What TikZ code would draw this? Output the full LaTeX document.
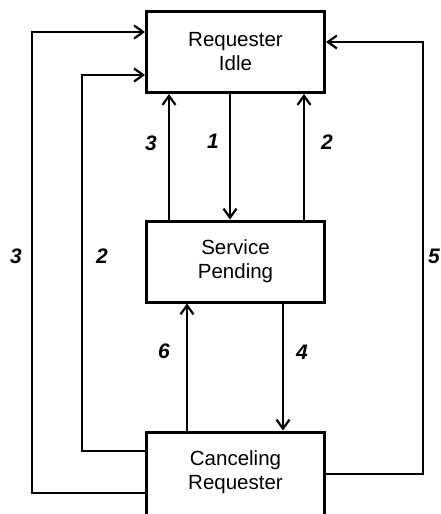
\documentclass[tikz,border=0pt]{standalone}
\usepackage{fontspec}
\setmainfont{Liberation Sans}
\usetikzlibrary{arrows.meta}
\begin{document}
\begin{tikzpicture}[x=1pt,y=-1pt,
  box/.style={draw,line width=3pt,minimum width=178pt,minimum height=81pt,inner sep=0pt},
  txt/.style={align=center,font=\fontsize{20.5}{24}\selectfont,inner sep=0pt},
  num/.style={font=\fontsize{21}{24}\selectfont\bfseries\itshape,inner sep=0pt},
  arr/.style={line width=2.2pt,-{Straight Barb[length=9pt,width=13pt,line width=2.2pt]}},
  ln/.style={line width=2pt}]
\useasboundingbox (0,0) rectangle (441,514);
\node[box] (idle) at (235.5,52) {};
\node[box] (pend) at (235.5,261.5) {};
\node[box,minimum height=86pt] (canc) at (235.5,475) {};
\node[txt] (idleT) at (idle.center) {Requester\\Idle};
\node[txt] (pendT) at (pend.center) {Service\\Pending};
\node[txt] (cancT) at (235.5,472) {Canceling\\Requester};
% corner coordinates
\coordinate (a1) at (32,493);
\coordinate (a2) at (32,32);
\coordinate (b1) at (82,451);
\coordinate (b2) at (82,75);
\coordinate (c1) at (423,474);
\coordinate (c2) at (423,42);
\coordinate (v3) at (169,0);
\coordinate (v1) at (230,0);
\coordinate (v2) at (304,0);
\coordinate (v6) at (187,0);
\coordinate (v4) at (283,0);
% outer loops
\draw[arr] (canc.west |- a1) -- (a1) -- (a2) -- (idle.west |- a2);
\draw[arr] (canc.west |- b1) -- (b1) -- (b2) -- (idle.west |- b2);
\draw[arr] (canc.east |- c1) -- (c1) -- (c2) -- (idle.east |- c2);
% verticals
\draw[arr] (pend.north -| v3) -- (idle.south -| v3);
\draw[arr] (idle.south -| v1) -- (pend.north -| v1);
\draw[arr] (pend.north -| v2) -- (idle.south -| v2);
\draw[arr] (canc.north -| v6) -- (pend.south -| v6);
\draw[arr] (pend.south -| v4) -- (canc.north -| v4);
% labels
\node[num] (l3o) at (16,256) {3};
\node[num] (l2i) at (102,256) {2};
\node[num] (l5) at (434,256) {5};
\node[num] (l3) at (151,143) {3};
\node[num] (l1) at (213,141) {1};
\node[num] (l2) at (327,142) {2};
\node[num] (l6) at (164,351) {6};
\node[num] (l4) at (302,352) {4};
\end{tikzpicture}
\end{document}
